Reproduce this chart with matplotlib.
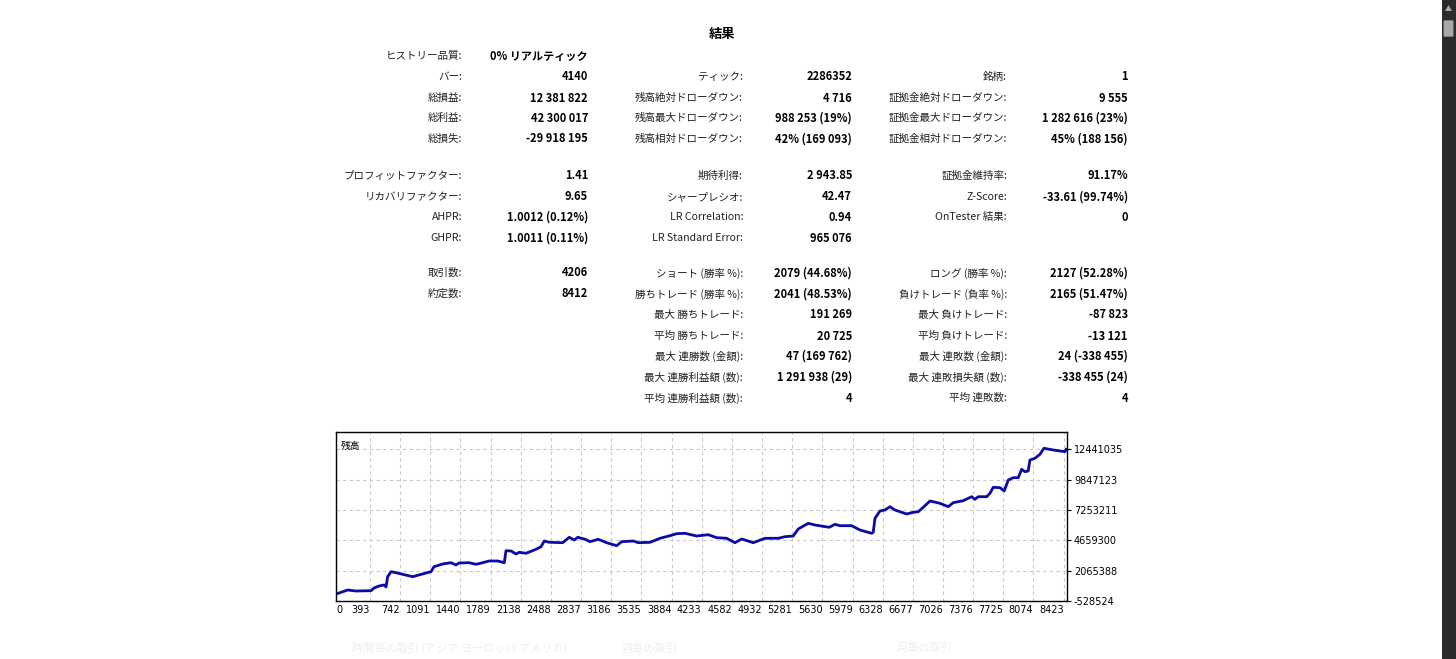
import numpy as np
import matplotlib
matplotlib.use("Agg")
import matplotlib.pyplot as plt
from matplotlib.patches import Rectangle, FancyBboxPatch, Polygon

plt.rcParams['font.family'] = ['Noto Sans CJK JP', 'DejaVu Sans']

W, H = 1456, 659

# report table: (label, value) per column
col1 = [("ヒストリー品質:", "0% リアルティック"), ("バー:", "4140"), ("総損益:", "12 381 822"),
        ("総利益:", "42 300 017"), ("総損失:", "-29 918 195"),
        ("プロフィットファクター:", "1.41"), ("リカバリファクター:", "9.65"),
        ("AHPR:", "1.0012 (0.12%)"), ("GHPR:", "1.0011 (0.11%)"),
        ("取引数:", "4206"), ("約定数:", "8412")]
col2 = [("ティック:", "2286352"), ("残高絶対ドローダウン:", "4 716"),
        ("残高最大ドローダウン:", "988 253 (19%)"), ("残高相対ドローダウン:", "42% (169 093)"),
        ("期待利得:", "2 943.85"), ("シャープレシオ:", "42.47"),
        ("LR Correlation:", "0.94"), ("LR Standard Error:", "965 076"),
        ("ショート (勝率 %):", "2079 (44.68%)"), ("勝ちトレード (勝率 %):", "2041 (48.53%)"),
        ("最大 勝ちトレード:", "191 269"), ("平均 勝ちトレード:", "20 725"),
        ("最大 連勝数 (金額):", "47 (169 762)"), ("最大 連勝利益額 (数):", "1 291 938 (29)"),
        ("平均 連勝利益額 (数):", "4")]
col3 = [("銘柄:", "1"), ("証拠金絶対ドローダウン:", "9 555"),
        ("証拠金最大ドローダウン:", "1 282 616 (23%)"), ("証拠金相対ドローダウン:", "45% (188 156)"),
        ("証拠金維持率:", "91.17%"), ("Z-Score:", "-33.61 (99.74%)"), ("OnTester 結果:", "0"),
        ("ロング (勝率 %):", "2127 (52.28%)"), ("負けトレード (負率 %):", "2165 (51.47%)"),
        ("最大 負けトレード:", "-87 823"), ("平均 負けトレード:", "-13 121"),
        ("最大 連敗数 (金額):", "24 (-338 455)"), ("最大 連敗損失額 (数):", "-338 455 (24)"),
        ("平均 連敗数:", "4")]

# balance curve (deal number, balance)
deal = [0, 135, 231, 405, 440, 498, 556, 579, 598, 637, 694, 888, 1042, 1100, 1134, 1235,
        1331, 1389, 1424, 1539, 1621, 1698, 1771, 1872, 1948, 1968, 2026, 2084, 2122, 2199,
        2315, 2373, 2411, 2469, 2624, 2700, 2758, 2798, 2886, 2940, 3036, 3133, 3249, 3307,
        3441, 3499, 3635, 3750, 3866, 3944, 4040, 4175, 4309, 4407, 4522, 4618, 4696, 4830,
        4966, 5120, 5197, 5293, 5351, 5467, 5544, 5710, 5776, 5834, 5969, 6065, 6201, 6219,
        6239, 6297, 6355, 6412, 6470, 6606, 6682, 6740, 6798, 6876, 6991, 7087, 7145, 7261,
        7358, 7396, 7435, 7532, 7570, 7608, 7686, 7735, 7782, 7840, 7898, 7937, 7975, 8013,
        8033, 8091, 8149, 8195, 8303, 8380, 8438, 8452]
balance = [60000, 412000, 326700, 352400, 583300, 754300, 839800, 668800, 1549700, 1977300,
           1891800, 1549700, 1866100, 1977300, 2404900, 2635800, 2747000, 2550300, 2721300,
           2747000, 2610200, 2747000, 2892400, 2892400, 2747000, 3773300, 3747600, 3491100,
           3636400, 3551000, 3893000, 4115400, 4602900, 4491700, 4457700, 4919500, 4688400,
           4919500, 4748300, 4543000, 4748300, 4457700, 4200900, 4543000, 4602900, 4457700,
           4491700, 4833800, 5056100, 5227200, 5261400, 5030500, 5141700, 4885200, 4833800,
           4457700, 4773900, 4457700, 4833800, 4833800, 4970600, 5030500, 5629100, 6116600,
           5971200, 5774500, 6031000, 5911300, 5911300, 5543600, 5261400, 5346900, 6544200,
           7168500, 7254100, 7536300, 7254100, 6912000, 7057400, 7108700, 7485000, 8023800,
           7827100, 7536300, 7878400, 8049400, 8391500, 8169100, 8391500, 8391500, 8682300,
           9195400, 9161200, 8879000, 9819800, 10016500, 10016500, 10734900, 10529600,
           10589500, 11530200, 11675600, 12017700, 12530800, 12385500, 12300000, 12240000,
           12441035]

xticks = [0, 393, 742, 1091, 1440, 1789, 2138, 2488, 2837, 3186, 3535, 3884, 4233, 4582,
          4932, 5281, 5630, 5979, 6328, 6677, 7026, 7376, 7725, 8074, 8423]
yticks = [-528524, 2065388, 4659300, 7253211, 9847123, 12441035]

fig = plt.figure(figsize=(W / 100, H / 100), dpi=100)
fig.patch.set_facecolor('white')


def fx(x):
    return x / W


def fy(y):
    return 1 - y / H


def row(lx, vx, y, lab, val):
    fig.text(fx(lx), fy(y), lab, ha='right', va='center', fontsize=7.6, color='#222222')
    fig.text(fx(vx), fy(y), val, ha='right', va='center', fontsize=8, fontweight='bold', color='black')


fig.text(fx(722), fy(34), "結果", ha='center', va='center', fontsize=9.5, fontweight='bold')

rows1 = [56, 77, 98, 118, 139, 176, 197, 217, 238, 273, 294]
rows2 = [77, 98, 118, 139, 176, 197, 217, 238, 273, 294, 315, 336, 356, 377, 398]
rows3 = [77, 98, 118, 139, 176, 197, 217, 273, 294, 315, 336, 356, 377, 398]
for (lab, val), y in zip(col1, rows1):
    row(462, 588, y, lab, val)
for (lab, val), y in zip(col2, rows2):
    row(743, 852, y, lab, val)
for (lab, val), y in zip(col3, rows3):
    row(1007, 1128, y, lab, val)

# balance chart
ax = fig.add_axes([fx(336), fy(601), 731 / W, 169 / H])
ax.plot(deal, balance, color='#0a0aa8', lw=2)
ax.set_xlim(0, 8462)
ax.set_ylim(-528524, 13924000)
ax.set_xticks(xticks)
ax.set_xticklabels([str(t) for t in xticks], fontsize=7, family=['DejaVu Sans'])
ax.set_yticks(yticks)
ax.set_yticklabels([str(t) for t in yticks], fontsize=7, family=['DejaVu Sans'])
ax.yaxis.tick_right()
ax.tick_params(axis='x', length=0, pad=3)
ax.tick_params(axis='y', length=3, pad=2, width=0.8)
for i, lab in enumerate(ax.get_xticklabels()):
    lab.set_ha('left' if i == 0 else 'right')
ax.grid(True, color='#c8c8c8', ls=(0, (3, 3)), lw=0.8)
for s in ax.spines.values():
    s.set_color('black')
    s.set_linewidth(1)
ax.text(0.006, 0.95, "残高", transform=ax.transAxes, fontsize=7, va='top', ha='left')

# faint headings of the next section
fig.text(fx(352), fy(648), "時間毎の取引 (アジア ヨーロッパ アメリカ)", fontsize=8, color='#eeeeee', va='center')
fig.text(fx(622), fy(648), "週毎の取引", fontsize=8, color='#eeeeee', va='center')
fig.text(fx(897), fy(648), "月毎の取引", fontsize=8, color='#eeeeee', va='center')

# browser scrollbar
fig.patches.append(Rectangle((fx(1442), 0), 14 / W, 1, transform=fig.transFigure,
                             facecolor='#2b2b2b', edgecolor='none'))
fig.patches.append(FancyBboxPatch((fx(1445), fy(36)), 7 / W, 15 / H, transform=fig.transFigure,
                                  boxstyle='round,pad=0.001', facecolor='#a8a8a8', edgecolor='none'))
fig.patches.append(Polygon([(fx(1445), fy(11)), (fx(1452), fy(11)), (fx(1448.5), fy(5))],
                           closed=True, transform=fig.transFigure, facecolor='#a8a8a8', edgecolor='none'))

fig.savefig("out.png", dpi=100)
